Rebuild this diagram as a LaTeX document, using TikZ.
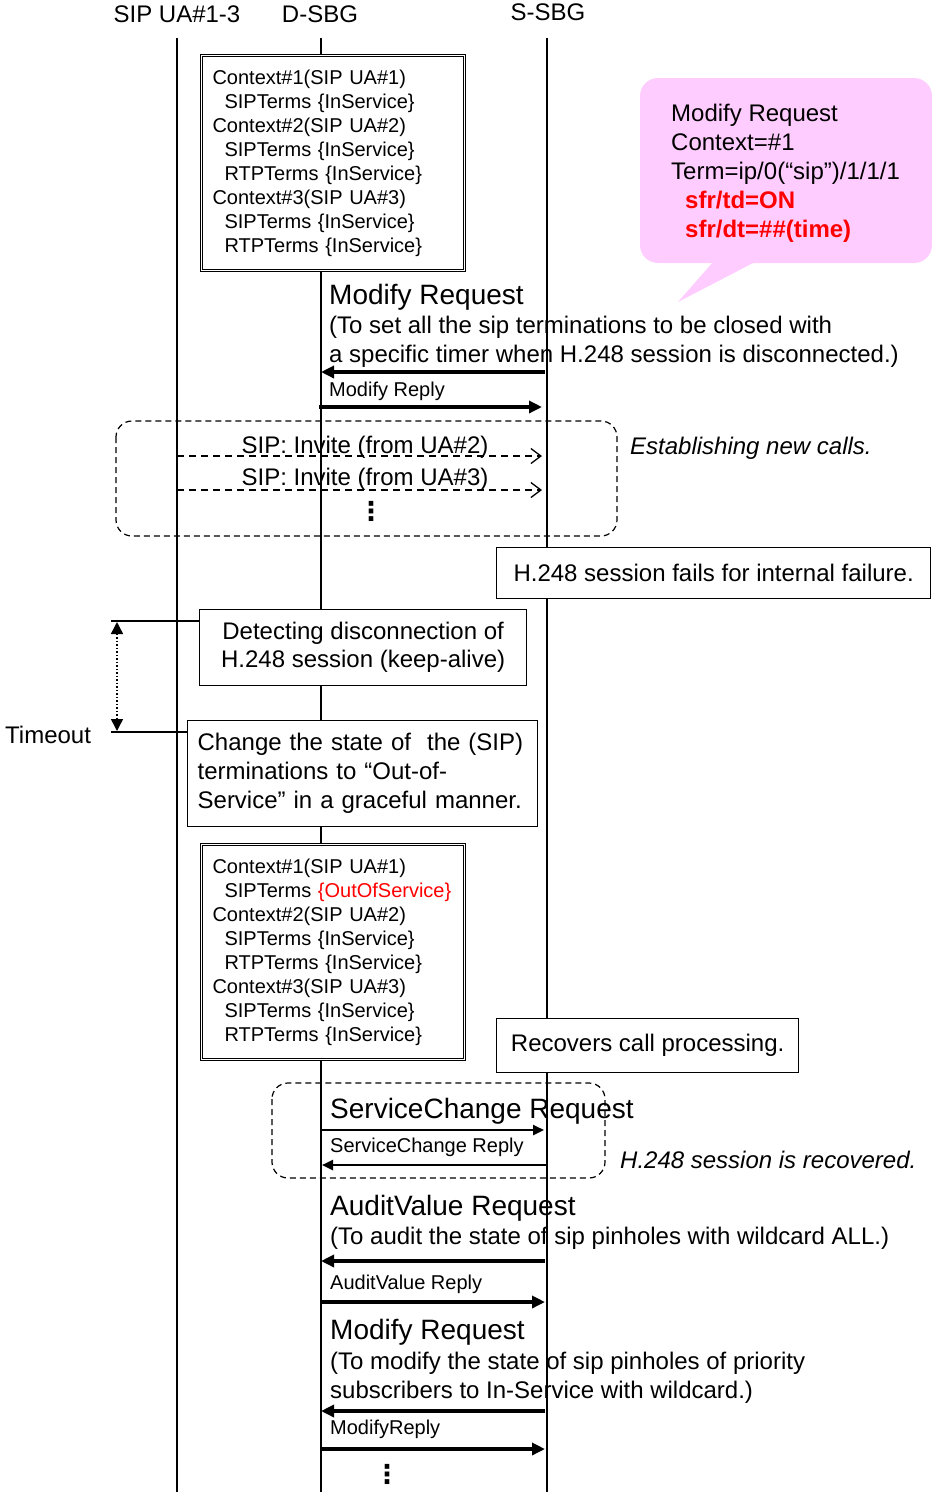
\documentclass[tikz,border=0pt]{standalone}
\usepackage{fontspec}
\setmainfont{Liberation Sans}
\newfontfamily\symfont{DejaVu Sans}
\usetikzlibrary{arrows.meta}
\definecolor{balloon}{HTML}{FFCCFF}

\tikzset{
  life/.style={black, line width=1.3pt},
  big/.style={font=\fontsize{28}{33}\selectfont},
  txt/.style={font=\fontsize{24}{29}\selectfont},
  small/.style={font=\fontsize{20}{24}\selectfont},
  lbl/.style={anchor=north west, inner sep=0pt, align=left},
  ctxbox/.style={draw, double, double distance=1.6pt, line width=1.1pt, fill=white,
    anchor=north west, minimum height=215pt, text width=241pt, inner xsep=11pt,
    align=left, small},
  note/.style={draw, line width=1.3pt, fill=white, anchor=north west, inner sep=0pt,
    align=center, font=\fontsize{24}{28}\selectfont},
  grp/.style={line width=1.2pt, dash pattern=on 6pt off 4pt, rounded corners=16pt},
  msg/.style={line width=3.6pt, -{Triangle[length=13pt, width=12pt]}},
  thinmsg/.style={line width=2.4pt, -{Triangle[length=11pt, width=10pt]}},
  sipmsg/.style={line width=1.3pt, dash pattern=on 7pt off 5pt,
    -{Straight Barb[length=10pt, width=15pt, line width=1.3pt]}},
  tmarrow/.style={line width=1.5pt, dotted,
    {Triangle[length=12pt, width=12pt]}-{Triangle[length=12pt, width=12pt]}},
  dots/.style={font=\symfont\bfseries\fontsize{26}{26}\selectfont, inner sep=0pt}
}

\begin{document}
\begin{tikzpicture}[x=1pt, y=-1pt]
  \useasboundingbox (0,0) rectangle (932,1492);
  %
  % balloon
  \fill[balloon, rounded corners=18pt] (640,78) rectangle (932,263);
  \fill[balloon] (713,262) -- (755,262) -- (678,302) -- cycle;
  \node[lbl, txt] (balloontxt) at (671,104) {Modify Request\\Context=\#1\\
    Term=ip/0(“sip”)/1/1/1\\
    \hspace*{14pt}{\color{red}\bfseries sfr/td=ON}\\
    \hspace*{14pt}{\color{red}\bfseries sfr/dt=\#\#(time)}};
  %
  % entities and lifelines
  \node[txt] (uahead) at (177,14) {SIP UA\#1-3};
  \node[txt] (dhead) at (320,14) {D-SBG};
  \node[txt] (shead) at (548,12) {S-SBG};
  \coordinate (uatop) at (177,38);
  \coordinate (uabot) at (177,1492);
  \coordinate (dtop) at (321,38);
  \coordinate (dbot) at (321,1492);
  \coordinate (stop) at (547,38);
  \coordinate (sbot) at (547,1492);
  \draw[life] (uatop) -- (uabot);
  \draw[life] (dtop) -- (dbot);
  \draw[life] (stop) -- (sbot);
  %
  % contexts before failure
  \node[ctxbox] (ctxA) at (201,55) {Context\#1(SIP UA\#1)\\
    \hspace*{12pt}SIPTerms \{InService\}\\
    Context\#2(SIP UA\#2)\\
    \hspace*{12pt}SIPTerms \{InService\}\\
    \hspace*{12pt}RTPTerms \{InService\}\\
    Context\#3(SIP UA\#3)\\
    \hspace*{12pt}SIPTerms \{InService\}\\
    \hspace*{12pt}RTPTerms \{InService\}};
  %
  % modify request with timer
  \node[lbl, big] (modreqA) at (329,284) {Modify Request};
  \node[lbl, txt] (modtxtA) at (329,316) {(To set all the sip terminations to be closed with\\
    a specific timer when H.248 session is disconnected.)};
  \coordinate (m1s) at (545,372);
  \coordinate (m1d) at (321,372);
  \draw[msg] (m1s) -- (m1d);
  \node[lbl, small] (modrepA) at (329,382) {Modify Reply};
  \coordinate (m2d) at (319,407);
  \coordinate (m2s) at (542,407);
  \draw[msg] (m2d) -- (m2s);
  %
  % new calls
  \draw[grp] (116,421) rectangle (617,536);
  \coordinate (i1u) at (177,456);
  \coordinate (i1s) at (542,456);
  \coordinate (i2u) at (177,490);
  \coordinate (i2s) at (542,490);
  \draw[sipmsg] (i1u) -- (i1s);
  \draw[sipmsg] (i2u) -- (i2s);
  \node[txt, anchor=base] (invA) at (365,453) {SIP: Invite (from UA\#2)};
  \node[txt, anchor=base] (invB) at (365,485) {SIP: Invite (from UA\#3)};
  \node[dots] (dotsA) at (371,511) {⋮};
  \node[txt, anchor=base west, inner sep=0pt] (newcalls) at (630,454) {\itshape Establishing new calls.};
  %
  % failure
  \node[note, minimum width=434pt, minimum height=51pt] (fails) at (496,547)
    {H.248 session fails for internal failure.};
  \node[note, minimum width=327pt, minimum height=76pt] (detect) at (199,609)
    {Detecting disconnection of\\H.248 session (keep-alive)};
  \node[note, align=left, text width=330pt, inner xsep=10pt, minimum height=106pt,
    font=\fontsize{24}{29}\selectfont] (change) at (187,720)
    {Change the state of\ \ the (SIP)\\terminations to “Out-of-\\Service” in a graceful manner.};
  %
  % timeout
  \coordinate (tmA) at (111,621);
  \coordinate (tmB) at (111,732);
  \draw[life] (tmA) -- (tmA -| detect.west);
  \draw[life] (tmB) -- (tmB -| change.west);
  \coordinate (tmtop) at (117,622);
  \coordinate (tmbot) at (117,731);
  \draw[tmarrow] (tmtop) -- (tmbot);
  \node[txt, anchor=base west, inner sep=0pt] (timeout) at (5,743) {Timeout};
  %
  % contexts after failure
  \node[ctxbox] (ctxB) at (201,844) {Context\#1(SIP UA\#1)\\
    \hspace*{12pt}SIPTerms {\color{red}\{OutOfService\}}\\
    Context\#2(SIP UA\#2)\\
    \hspace*{12pt}SIPTerms \{InService\}\\
    \hspace*{12pt}RTPTerms \{InService\}\\
    Context\#3(SIP UA\#3)\\
    \hspace*{12pt}SIPTerms \{InService\}\\
    \hspace*{12pt}RTPTerms \{InService\}};
  \node[note, minimum width=302pt, minimum height=54pt] (recover) at (496,1018)
    {Recovers call processing.};
  %
  % service change
  \draw[grp] (272,1083) rectangle (605,1178);
  \node[lbl, big] (screq) at (330,1098) {ServiceChange Request};
  \coordinate (sc1d) at (321,1130);
  \coordinate (sc1s) at (544,1130);
  \draw[thinmsg] (sc1d) -- (sc1s);
  \node[lbl, small] (screp) at (330,1138) {ServiceChange Reply};
  \coordinate (sc2s) at (547,1165);
  \coordinate (sc2d) at (322,1165);
  \draw[thinmsg] (sc2s) -- (sc2d);
  \node[txt, anchor=base west, inner sep=0pt] (recovered) at (620,1168) {\itshape H.248 session is recovered.};
  %
  % audit
  \node[lbl, big] (avreq) at (330,1195) {AuditValue Request};
  \node[lbl, txt] (avtxt) at (330,1227) {(To audit the state of sip pinholes with wildcard ALL.)};
  \coordinate (a1s) at (545,1261);
  \coordinate (a1d) at (321,1261);
  \draw[msg] (a1s) -- (a1d);
  \node[lbl, small] (avrep) at (330,1275) {AuditValue Reply};
  \coordinate (a2d) at (320,1302);
  \coordinate (a2s) at (545,1302);
  \draw[msg] (a2d) -- (a2s);
  %
  % modify priority subscribers
  \node[lbl, big] (modreqB) at (330,1319) {Modify Request};
  \node[lbl, txt] (modtxtB) at (330,1352) {(To modify the state of sip pinholes of priority\\
    subscribers to In-Service with wildcard.)};
  \coordinate (b1s) at (545,1411);
  \coordinate (b1d) at (321,1411);
  \draw[msg] (b1s) -- (b1d);
  \node[lbl, small] (modrepB) at (330,1420) {ModifyReply};
  \coordinate (b2d) at (320,1449);
  \coordinate (b2s) at (545,1449);
  \draw[msg] (b2d) -- (b2s);
  \node[dots] (dotsB) at (387,1474) {⋮};
\end{tikzpicture}
\end{document}
